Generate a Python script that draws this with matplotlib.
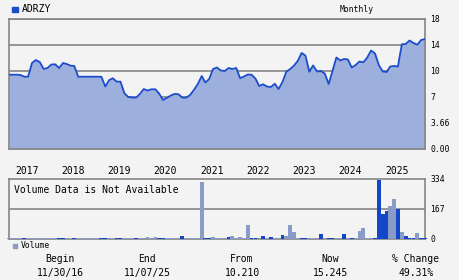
import numpy as np
import pandas as pd
import matplotlib
matplotlib.use("Agg")
import matplotlib.pyplot as plt
from datetime import datetime

# monthly closes, 11/2016 .. 11/2025
prices = [
    9.57, 9.57, 9.57, 9.54, 9.34, 9.34, 11.23, 11.69, 11.38, 10.31,
    10.46, 11.00, 11.03, 10.46, 11.23, 11.08, 10.82, 10.77, 9.34, 9.34,
    9.34, 9.34, 9.34, 9.34, 9.34, 8.21, 8.96, 9.16, 8.77, 8.77,
    7.43, 7.00, 6.94, 6.92, 7.35, 7.92, 7.75, 7.89, 7.89, 7.40,
    6.61, 6.88, 7.17, 7.35, 7.32, 6.92, 6.92, 7.23, 7.81, 8.50,
    9.42, 8.67, 9.08, 10.31, 10.54, 10.08, 10.00, 10.46, 10.31, 10.46,
    9.16, 9.37, 9.60, 9.57, 9.13, 8.27, 8.47, 8.21, 8.15, 8.53,
    7.92, 8.73, 9.92, 10.31, 10.85, 11.54, 12.77, 12.38, 9.92, 10.85,
    9.94, 10.00, 9.71, 8.50, 10.00, 12.08, 11.62, 11.85, 11.77, 10.54,
    10.92, 11.46, 11.34, 12.08, 13.15, 12.69, 10.92, 9.94, 9.88, 10.69,
    10.77, 10.69, 14.11, 14.15, 14.69, 14.31, 14.05, 14.77, 14.92,
]
dates = pd.date_range("2016-11-30", periods=len(prices), freq="ME")

# volume (thousands), mostly tiny
volume = [7] * len(prices)
big_vol = {36: 12, 38: 11, 45: 14, 50: 315, 53: 10, 57: 12, 58: 15, 60: 10,
           62: 78, 66: 14, 68: 10, 71: 22, 72: 15, 73: 80, 74: 40, 81: 30,
           87: 30, 91: 45, 92: 60, 96: 330, 97: 140, 98: 155, 99: 185,
           100: 225, 101: 165, 102: 38, 103: 15, 106: 35}
for k, v in big_vol.items():
    volume[k] = v
dark_months = [4, 13, 14, 17, 24, 25, 28, 29, 33, 39, 40, 45, 51, 52, 57,
               63, 64, 66, 68, 71, 76, 77, 81, 83, 84, 87, 89, 95, 96, 97,
               98, 101, 103, 104, 105, 107, 108]

price_ticks = [0, 3.66, 7, 10, 14, 18]
price_tick_labels = ["0.00", "3.66", "7", "10", "14", "18"]
vol_ticks = [0, 167, 334]
years = [2017, 2018, 2019, 2020, 2021, 2022, 2023, 2024, 2025]

footer_heads = ["Begin", "End", "From", "Now", "% Change"]
footer_vals = ["11/30/16", "11/07/25", "10.210", "15.245", "49.31%"]
footer_x = [60, 147, 242, 330, 416]

BG = "#f3f3f3"
FILL = "#9dafdc"
LINE = "#1a4ccc"
DARK = "#1446c8"
LIGHT = "#8a9bc8"
GRID = "#858585"
MONO = "DejaVu Sans Mono"

W, H = 460, 280
fig = plt.figure(figsize=(W / 100, H / 100), dpi=100)
fig.patch.set_facecolor(BG)


def box(x0, y0, x1, y1):
    # pixel box -> figure rect
    return [x0 / W, 1 - y1 / H, (x1 - x0) / W, (y1 - y0) / H]


# price panel
ax = fig.add_axes(box(9, 19, 425, 149))
ax.set_facecolor(BG)
pos = np.arange(len(price_ticks), dtype=float)
fwd = lambda v: np.interp(v, price_ticks, pos)
inv = lambda p: np.interp(p, pos, price_ticks)
ax.set_yscale("function", functions=(fwd, inv))
ax.set_ylim(0, 18)
ax.set_xlim(dates[0], dates[-1])
for t in price_ticks[1:]:
    ax.axhline(t, color=GRID, lw=1.2, zorder=1)
ax.fill_between(dates, prices, 0, color=FILL, lw=0, zorder=2)
ax.plot(dates, prices, color=LINE, lw=1.3, zorder=3)
ax.yaxis.tick_right()
ax.set_yticks(price_ticks)
ax.set_yticklabels(price_tick_labels, family=MONO, fontsize=5.8)
ax.yaxis.set_minor_locator(plt.NullLocator())
ax.tick_params(axis="y", length=0, pad=4)
ax.set_xticks([datetime(y, 4, 20) for y in years])
ax.set_xticklabels([str(y) for y in years], family=MONO, fontsize=7)
ax.tick_params(axis="x", length=0, pad=12)
for s in ax.spines.values():
    s.set_color(GRID)
    s.set_linewidth(1.2)

# volume panel
av = fig.add_axes(box(9, 179, 425, 239))
av.set_facecolor(BG)
av.set_xlim(dates[0], dates[-1])
av.set_ylim(0, 334)
av.axhline(167, color=GRID, lw=1.2, zorder=1)
cols = [DARK if i in dark_months else LIGHT for i in range(len(volume))]
av.bar(dates, volume, width=30, color=cols, lw=0, zorder=3, clip_on=False)
av.yaxis.tick_right()
av.set_yticks(vol_ticks)
av.set_yticklabels([str(v) for v in vol_ticks], family=MONO, fontsize=5.8)
av.tick_params(axis="y", length=0, pad=4)
av.set_xticks([])
for s in av.spines.values():
    s.set_color(GRID)
    s.set_linewidth(1.2)
av.text(0.012, 0.82, "Volume Data is Not Available", transform=av.transAxes,
        family=MONO, fontsize=7, va="center", ha="left")

# legends / labels
fig.patches.append(plt.Rectangle((12.5 / W, 1 - 12 / H), 5 / W, 5 / H,
                                 transform=fig.transFigure, color=LINE))
fig.text(22 / W, 1 - 9.5 / H, "ADRZY", family=MONO, fontsize=7, va="center")
fig.text(357 / W, 1 - 9.5 / H, "Monthly", family=MONO, fontsize=5.8,
         va="center", ha="center")
fig.patches.append(plt.Rectangle((13 / W, 1 - 247.5 / H), 4 / W, 4 / H,
                                 transform=fig.transFigure, color=LIGHT))
fig.text(20.5 / W, 1 - 245.5 / H, "Volume", family=MONO, fontsize=5.8,
         va="center")

for x, head, val in zip(footer_x, footer_heads, footer_vals):
    fig.text(x / W, 1 - 259 / H, head, family=MONO, fontsize=7,
             ha="center", va="center")
    fig.text(x / W, 1 - 273 / H, val, family=MONO, fontsize=7,
             ha="center", va="center")

fig.savefig("out.png", dpi=100, facecolor=BG)
